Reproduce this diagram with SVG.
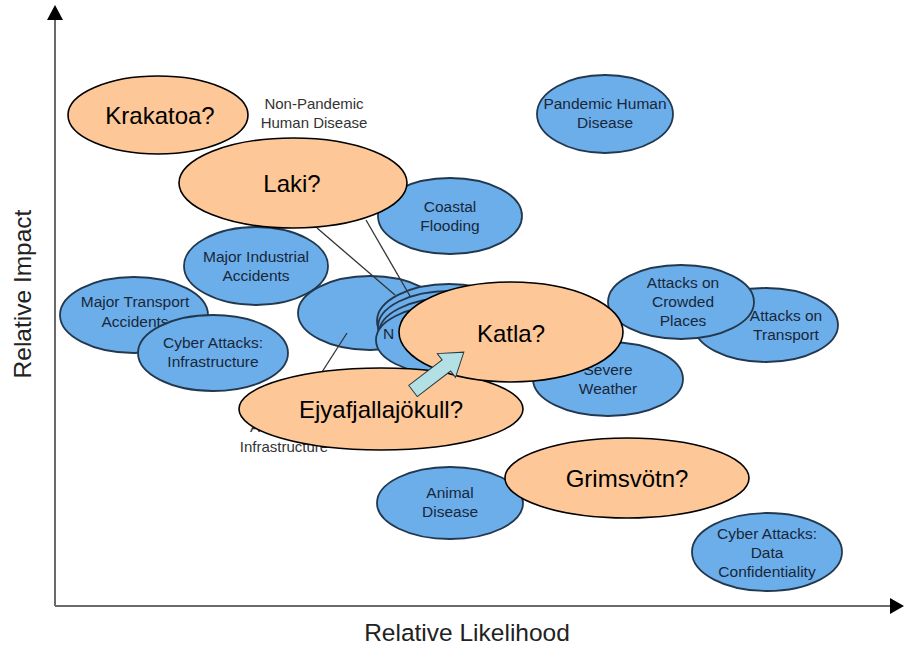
<svg xmlns="http://www.w3.org/2000/svg" width="905" height="652" viewBox="0 0 905 652">
<style>
.b{fill:#6caeea;stroke:#22384f;stroke-width:1.8}
.o{fill:#fdc797;stroke:#000;stroke-width:1.6}
.bt{font-family:"Liberation Sans",Arial,sans-serif;font-size:15.5px;fill:#18273a;text-anchor:middle}
.ot{font-family:"Liberation Sans",Arial,sans-serif;font-size:24px;fill:#000;text-anchor:middle}
.gt{font-family:"Liberation Sans",Arial,sans-serif;font-size:15px;fill:#333;text-anchor:middle}
.ax{font-family:"Liberation Sans",Arial,sans-serif;font-size:24.5px;fill:#222;text-anchor:middle}
.ln{stroke:#333;stroke-width:1.3;fill:none}
</style>
<rect width="905" height="652" fill="#fff"/>
<g id="axes">
<line x1="55" y1="18" x2="55" y2="606" stroke="#6a6a6a" stroke-width="2"/>
<line x1="55" y1="606" x2="892" y2="606" stroke="#6a6a6a" stroke-width="2"/>
<polygon points="55,5 47,20 63,20" fill="#000"/>
<polygon points="904,606 890,598 890,614" fill="#000"/>
<text class="ax" transform="translate(31,294) rotate(-90)">Relative Impact</text>
<text class="ax" x="467" y="641">Relative Likelihood</text>
</g>
<g id="non-pandemic">
<text class="gt" x="314" y="109">Non-Pandemic</text>
<text class="gt" x="314" y="128">Human Disease</text>
</g>
<g id="pandemic">
<ellipse class="b" cx="605" cy="114" rx="68" ry="39"/>
<text class="bt" x="605" y="109">Pandemic Human</text>
<text class="bt" x="605" y="128">Disease</text>
</g>
<g id="coastal">
<ellipse class="b" cx="450" cy="216" rx="72" ry="38"/>
<text class="bt" x="450" y="212">Coastal</text>
<text class="bt" x="450" y="231">Flooding</text>
</g>
<g id="industrial">
<ellipse class="b" cx="256" cy="266" rx="72" ry="39"/>
<text class="bt" x="256" y="262">Major Industrial</text>
<text class="bt" x="256" y="281">Accidents</text>
</g>
<g id="transport-acc">
<ellipse class="b" cx="134" cy="315" rx="74" ry="38"/>
<text class="bt" x="135" y="307">Major Transport</text>
<text class="bt" x="135" y="327">Accidents</text>
</g>
<g id="cyber-infra">
<ellipse class="b" cx="213" cy="353" rx="75" ry="38"/>
<text class="bt" x="213" y="348">Cyber Attacks:</text>
<text class="bt" x="213" y="367">Infrastructure</text>
</g>
<g id="blank">
<ellipse class="b" cx="370" cy="313" rx="72" ry="37"/>
</g>
<g id="stack">
<ellipse class="b" cx="449" cy="321" rx="72" ry="37"/>
<ellipse class="b" cx="449" cy="327" rx="71" ry="36"/>
<ellipse class="b" cx="449" cy="333" rx="70" ry="35"/>
<ellipse class="b" cx="443" cy="340" rx="67" ry="34"/>
<text class="bt" x="383" y="339" style="text-anchor:start">N</text>
</g>
<g id="crowded-transport">
<ellipse class="b" cx="766" cy="325" rx="72" ry="37"/>
<text class="bt" x="786" y="321">Attacks on</text>
<text class="bt" x="786" y="340">Transport</text>
</g>
<g id="crowded">
<ellipse class="b" cx="681" cy="302" rx="73" ry="37"/>
<text class="bt" x="683" y="288">Attacks on</text>
<text class="bt" x="683" y="307">Crowded</text>
<text class="bt" x="683" y="326">Places</text>
</g>
<g id="severe">
<ellipse class="b" cx="608" cy="379" rx="75" ry="37"/>
<text class="bt" x="608" y="375">Severe</text>
<text class="bt" x="608" y="394">Weather</text>
</g>
<g id="animal">
<ellipse class="b" cx="450" cy="503" rx="73" ry="36"/>
<text class="bt" x="450" y="498">Animal</text>
<text class="bt" x="450" y="517">Disease</text>
</g>
<g id="cyber-data">
<ellipse class="b" cx="767" cy="552" rx="75" ry="39"/>
<text class="bt" x="767" y="539">Cyber Attacks:</text>
<text class="bt" x="767" y="558">Data</text>
<text class="bt" x="767" y="577">Confidentiality</text>
</g>
<g id="attacks-infra">
<text class="gt" x="250" y="432" style="text-anchor:start">A</text>
<text class="gt" x="284" y="452">Infrastructure</text>
</g>
<g id="connectors">
<line class="ln" x1="317" y1="228" x2="395" y2="295"/>
<line class="ln" x1="366" y1="220" x2="410" y2="296"/>
<line class="ln" x1="347" y1="333" x2="322" y2="372"/>
</g>
<g id="krakatoa">
<ellipse class="o" cx="158" cy="115" rx="90" ry="39"/>
<text class="ot" x="160" y="124">Krakatoa?</text>
</g>
<g id="laki">
<ellipse class="o" cx="293" cy="183" rx="114" ry="45"/>
<text class="ot" x="292" y="192">Laki?</text>
</g>
<g id="ejyafjallajokull">
<ellipse class="o" cx="381" cy="409" rx="142" ry="41"/>
<text class="ot" x="381" y="418">Ejyafjallajökull?</text>
</g>
<g id="katla">
<ellipse class="o" cx="511" cy="332" rx="112" ry="50"/>
<text class="ot" x="511" y="342">Katla?</text>
</g>
<g id="grimsvotn">
<ellipse class="o" cx="627" cy="478" rx="122" ry="40"/>
<text class="ot" x="627" y="487">Grimsvötn?</text>
</g>
<g id="arrow">
<polygon transform="translate(413,391) rotate(-37.4)" points="0,-7 42,-7 42,-15 64,0 42,15 42,7 0,7" fill="#b3e0e4" stroke="#2a3a40" stroke-width="1"/>
</g>
</svg>
